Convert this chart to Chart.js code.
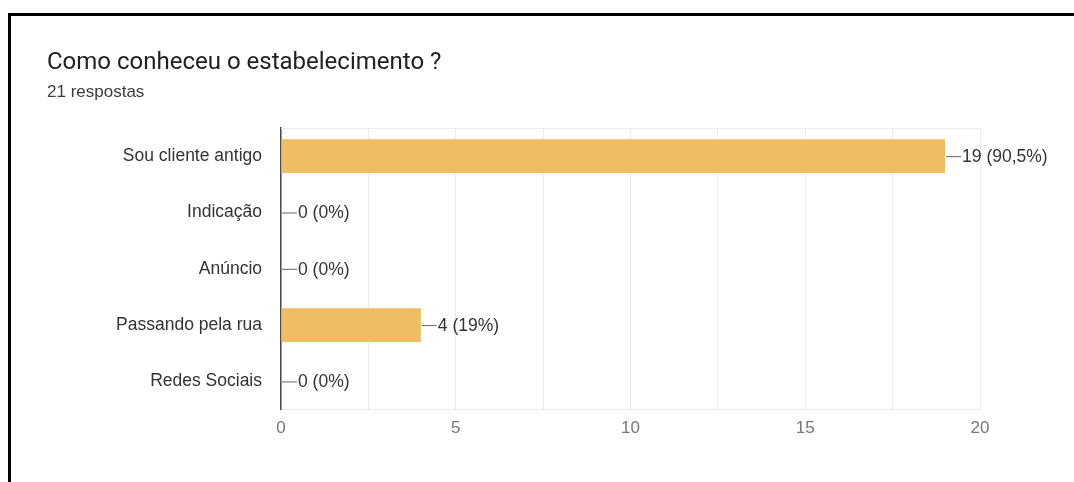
<!DOCTYPE html>
<html>
<head>
<meta charset="utf-8">
<script src="https://cdn.jsdelivr.net/npm/chart.js@4.4.1/dist/chart.umd.min.js"></script>
<style>
  html, body { margin: 0; padding: 0; background: #fff; width: 1074px; height: 482px; overflow: hidden; }
  #frame {
    position: absolute; left: 8px; top: 13px; right: 0; bottom: 0;
    border-top: 3px solid #000; border-left: 3px solid #000;
  }
  #chart { position: absolute; left: 0; top: 0; }
</style>
</head>
<body>
<div id="frame"><canvas id="chart" width="1063" height="466"></canvas></div>
<script>
// Respostas do formulário
const pergunta   = 'Como conheceu o estabelecimento ?';
const respostas  = 21;
const opcoes     = ['Sou cliente antigo', 'Indicação', 'Anúncio', 'Passando pela rua', 'Redes Sociais'];
const contagens  = [19, 0, 0, 4, 0];
const eixoMax    = 20;
const eixoPasso  = 2.5;   // linhas de grade
const rotuloPasso = 5;    // números no eixo

const COR_BARRA = '#EFBD63';
const FONTE = 'Arial, "Liberation Sans", sans-serif';

function _pct(v) {
    const p = Math.round(v / respostas * 1000) / 10;
    return String(p).replace('.', ',');
}

/* ── rótulos "—19 (90,5%)" ao lado das barras ─────── */
const rotulosBarras = {
    id: 'rotulosBarras',
    afterDatasetsDraw(chart) {
        const ctx = chart.ctx;
        const meta = chart.getDatasetMeta(0);
        ctx.save();
        ctx.font = '17.5px ' + FONTE;
        ctx.textBaseline = 'middle';
        ctx.textAlign = 'left';
        meta.data.forEach((bar, i) => {
            const v = contagens[i];
            const x = bar.x, y = bar.y;
            ctx.strokeStyle = '#666';
            ctx.lineWidth = 1;
            ctx.beginPath();
            ctx.moveTo(x + 1, y + 0.5);
            ctx.lineTo(x + 16, y + 0.5);
            ctx.stroke();
            ctx.fillStyle = '#333';
            ctx.fillText(`${v} (${_pct(v)}%)`, x + 17, y + 1);
        });
        ctx.restore();
    }
};

/* ── linha clara no topo da área do gráfico ───────── */
const bordaTopo = {
    id: 'bordaTopo',
    beforeDatasetsDraw(chart) {
        const { ctx, chartArea } = chart;
        ctx.save();
        ctx.strokeStyle = '#ebebeb';
        ctx.lineWidth = 1;
        ctx.beginPath();
        ctx.moveTo(chartArea.left, chartArea.top + 0.5);
        ctx.lineTo(chartArea.right, chartArea.top + 0.5);
        ctx.stroke();
        ctx.restore();
    }
};

new Chart(document.getElementById('chart'), {
    type: 'bar',
    data: {
        labels: opcoes,
        datasets: [{
            data: contagens,
            backgroundColor: COR_BARRA,
            borderWidth: 0,
            barPercentage: 0.6,
            categoryPercentage: 1
        }]
    },
    options: {
        indexAxis: 'y',
        responsive: false,
        animation: false,
        devicePixelRatio: 1,
        layout: { padding: { left: 36, right: 94, top: 0, bottom: 34 } },
        plugins: {
            legend: { display: false },
            tooltip: { enabled: false },
            title: {
                display: true,
                text: pergunta,
                align: 'start',
                color: '#202124',
                font: { family: 'Roboto, Arial, sans-serif', size: 24, weight: 'normal' },
                padding: { top: 33, bottom: 4.5 }
            },
            subtitle: {
                display: true,
                text: respostas + ' respostas',
                align: 'start',
                color: '#3c3c3c',
                font: { family: FONTE, size: 17 },
                padding: { top: 0, bottom: 25.3 }
            }
        },
        scales: {
            x: {
                min: 0,
                max: eixoMax,
                ticks: {
                    stepSize: eixoPasso,
                    autoSkip: false,
                    maxRotation: 0,
                    padding: 9,
                    color: '#777',
                    font: { family: FONTE, size: 17 },
                    callback: v => (v % rotuloPasso === 0 ? v : '')
                },
                grid: { color: '#ebebeb', drawTicks: false },
                border: { display: true, color: '#ebebeb' }
            },
            y: {
                grid: { display: false, drawTicks: false },
                border: { display: true, color: '#4a4a4a', width: 1.5 },
                ticks: {
                    padding: 19,
                    color: '#333',
                    font: { family: FONTE, size: 17.5 }
                },
                afterFit: s => { s.width = 234; }
            }
        }
    },
    plugins: [bordaTopo, rotulosBarras]
});
</script>
</body>
</html>
